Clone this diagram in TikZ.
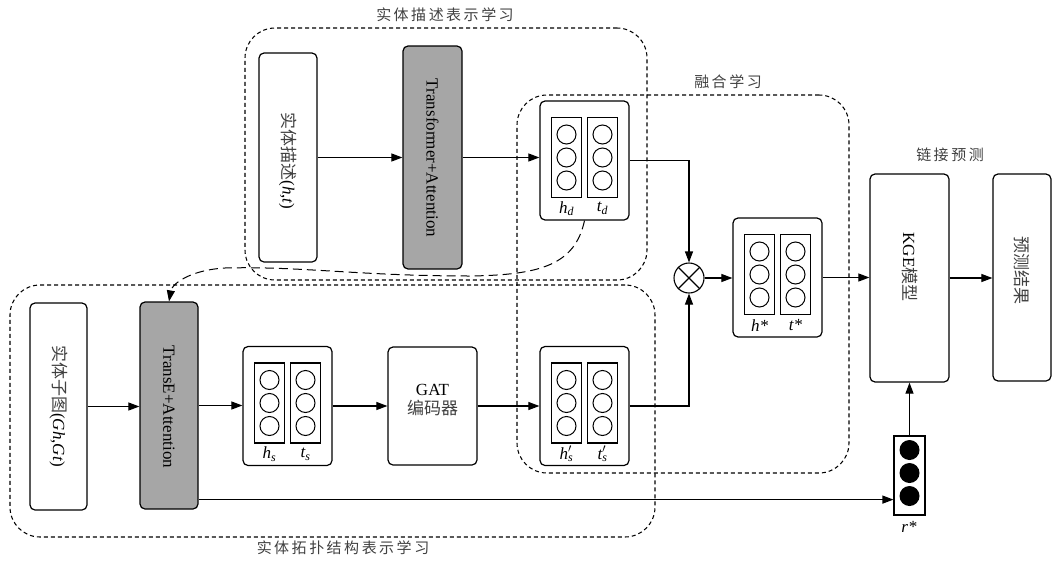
\documentclass[tikz,border=0pt]{standalone}
\usepackage{fontspec}
\setmainfont{Liberation Serif}
\newfontfamily\cjk{Noto Sans CJK SC}
\usetikzlibrary{arrows.meta,calc}
\definecolor{boxgray}{HTML}{A6A6A6}
\definecolor{lblgray}{HTML}{404040}
\tikzset{
  box/.style={draw, line width=1.2pt, rounded corners=5pt, inner sep=0pt},
  graybox/.style={box, fill=boxgray},
  region/.style={draw, dash pattern=on 4pt off 3pt, line width=1.05pt, rounded corners=30pt, inner sep=0pt},
  arr/.style={-{Triangle[length=11pt,width=8pt]}, line width=1.1pt},
  rlabel/.style={font=\fontsize{15}{18}\selectfont\cjk, text=lblgray},
  vtext/.style={rotate=-90, inner sep=0pt},
  vlabel/.style={inner sep=0pt, font=\fontsize{17}{20}\selectfont\itshape},
}
\newcommand{\zh}[1]{{\cjk\color{lblgray}#1}}
\newcommand{\pr}[2]{#1\rlap{$'$}\textsubscript{#2}}
\newcommand{\vecbox}[5]{%
  \node[box, minimum width=89pt, minimum height=119pt] (#1) at (#2,#3) {};
  \foreach \dx in {-18,18} {
    \draw[line width=1.1pt] ({#2+\dx-15},{#3-43}) rectangle ({#2+\dx+15},{#3+37});
    \foreach \dy in {-26,-3,20} {
      \draw[line width=1pt] ({#2+\dx},{#3+\dy}) circle[radius=9.5pt];
    }
  }
  \node[vlabel] (#1h) at ({#2-18},{#3+48}) {#4};
  \node[vlabel] (#1t) at ({#2+18},{#3+48}) {#5};
}
\begin{document}
\begin{tikzpicture}[x=1pt,y=-1pt, font=\fontsize{17}{20}\selectfont]
\useasboundingbox (0,0) rectangle (1053,560);

% regions
\node[region, minimum width=402pt, minimum height=252pt] (descreg) at (446,154) {};
\node[region, minimum width=332pt, minimum height=378pt] (fusereg) at (683,284) {};
\node[region, minimum width=645pt, minimum height=252pt] (topreg) at (332.5,411) {};
\node[rlabel] (descl) at (445,15) {实\,体\,描\,述\,表\,示\,学\,习};
\node[rlabel] (fusel) at (728,82) {融\,合\,学\,习};
\node[rlabel] (topl) at (343,548) {实\,体\,拓\,扑\,结\,构\,表\,示\,学\,习};
\node[rlabel] (predl) at (950,155) {链\,接\,预\,测};

% description branch
\node[box, minimum width=58pt, minimum height=209pt] (desc) at (288,157.5) {};
\node[vtext] (desct) at (288,161) {\zh{实体描述}(\textit{h},\textit{t})};
\node[graybox, minimum width=59pt, minimum height=223pt] (trans) at (432.5,157.5) {};
\node[vtext] (transt) at (432.5,158) {Transformer+Attention};
\vecbox{hd}{584.5}{160.5}{h\textsubscript{d}}{t\textsubscript{d}}

% topology branch
\node[box, minimum width=57pt, minimum height=207pt] (sub) at (58.5,406.5) {};
\node[vtext] (subt) at (58.5,406) {\zh{实体子图}(\textit{Gh},\textit{Gt})};
\node[graybox, minimum width=58pt, minimum height=207pt] (transe) at (169,405.5) {};
\node[vtext] (transet) at (169,407) {TransE+Attention};
\vecbox{hs}{287.5}{406}{h\textsubscript{s}}{t\textsubscript{s}}
\node[box, minimum width=89pt, minimum height=118pt] (gat) at (432.5,406) {};
\node[align=center, inner sep=0pt] (gatt) at (432.5,400) {GAT\\[-1pt]\zh{编码器}};
\vecbox{hsp}{584.5}{406}{\pr{h}{s}}{\pr{t}{s}}

% fusion
\node[draw, circle, line width=1.1pt, minimum size=30pt, inner sep=0pt] (ot) at (689,278) {};
\draw[line width=1.1pt] (ot.north east) -- (ot.south west) (ot.north west) -- (ot.south east);
\vecbox{hstar}{777.5}{277.5}{h*}{t*}

% prediction
\node[box, minimum width=79pt, minimum height=208pt] (kge) at (909.5,278) {};
\node[vtext] (kget) at (909.5,267) {KGE\zh{模型}};
\node[box, minimum width=58pt, minimum height=207pt] (res) at (1022,277.5) {};
\node[vtext] (rest) at (1022,270) {\zh{预测结果}};

% relation vector
\node[draw, line width=1.1pt, minimum width=31pt, minimum height=79pt, inner sep=0pt] (rbox) at (909.5,475.5) {};
\foreach \yy in {450,473,496} { \fill (909.5,\yy) circle[radius=10pt]; }
\node[vlabel] (rlab) at (909,527) {r*};

% connectors
\draw[arr] (desc.east) -- (trans.west);
\draw[arr] (trans.east) -- (trans.east -| hd.west);
\draw[arr] (hd.east) -| (ot.north);
\draw[arr] (hsp.east) -| (ot.south);
\draw[arr] (ot.east) -- (ot.east -| hstar.west);
\draw[arr] (hstar.east) -- (hstar.east -| kge.west);
\draw[arr] (kge.east) -- (kge.east -| res.west);
\draw[arr] (rbox.north) -- (rbox.north |- kge.south);
\draw[arr] (sub.east) -- (sub.east -| transe.west);
\draw[arr] (transe.east) -- (transe.east -| hs.west);
\draw[arr] (hs.east) -- (gat.west);
\draw[arr] (gat.east) -- (gat.east -| hsp.west);
\draw[arr] ([yshift=10pt]transe.south east) -- ([yshift=10pt]transe.south east -| rbox.west);
\draw[-{Triangle[length=11pt,width=8pt]}, line width=1pt, dash pattern=on 9pt off 5pt]
  (hd.south) .. controls (575,265) and (540,275) .. (470,276)
  .. controls (360,276) and (300,266) .. (225,268)
  .. controls (190,270) and (172,284) .. (transe.north);
\end{tikzpicture}
\end{document}
